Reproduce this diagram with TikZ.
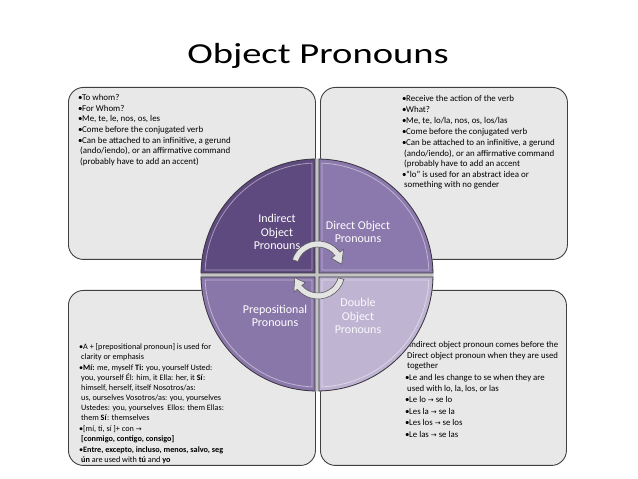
\documentclass[tikz,border=0pt]{standalone}
\usepackage{fontspec}
\setmainfont{Carlito}
\newfontfamily\djv{DejaVu Sans}
\definecolor{boxfill}{HTML}{E8E8E8}
\definecolor{boxline}{HTML}{404040}
\definecolor{qA}{HTML}{5E4A7F}
\definecolor{qB}{HTML}{8B78AC}
\definecolor{qC}{HTML}{8A77AA}
\definecolor{qD}{HTML}{BFB5D3}
\definecolor{qline}{HTML}{3A3340}
\definecolor{gapgray}{HTML}{C4C4C4}
\definecolor{arrfill}{HTML}{E4E4E4}
\definecolor{arrline}{HTML}{5A5A5A}
\newcommand{\bul}{\makebox[4pt][l]{•}}
\newcommand{\myind}{\hspace*{2pt}}
\newcommand{\myarr}{{\djv\fontsize{7}{7}\selectfont →}}
\tikzset{
  infobox/.style={draw=boxline, line width=0.9pt, fill=boxfill, rounded corners=15pt, inner sep=0pt, anchor=north west},
  bodytext/.style={anchor=north west, inner sep=0pt, align=left, text=black},
  qlabel/.style={align=center, text=white, font=\fontsize{12}{13.5}\selectfont, inner sep=0pt},
  quad/.style={draw=qline, line width=0.8pt},
  quadhi/.style={draw=white, draw opacity=0.45, line width=0.8pt},
  cyclearrow/.style={fill=arrfill, draw=arrline, line width=0.6pt}
}
\begin{document}
\begin{tikzpicture}[x=1pt,y=1pt]
\useasboundingbox (0,0) rectangle (638,479);
\fill[white] (0,0) rectangle (638,479);

% title
\node[inner sep=0pt, anchor=base, font=\fontsize{29}{29}\selectfont] (title) at (318,415) {\scalebox{1.33}[1]{Object Pronouns}};

% boxes
\node[infobox, minimum width=247pt, minimum height=172pt] (tlbox) at (68,392) {};
\node[infobox, minimum width=247pt, minimum height=172pt] (trbox) at (320,392) {};
\node[infobox, minimum width=247pt, minimum height=175pt] (llbox) at (68,189) {};
\node[infobox, minimum width=246pt, minimum height=175pt] (lrbox) at (320,189) {};

% body texts
\node[bodytext, font=\fontsize{8.9}{10.7}\selectfont] (tltext) at (78,385) {%
\bul To whom?\\
\bul For Whom?\\
\bul Me, te, le, nos, os, les\\
\bul Come before the conjugated verb\\
\bul Can be attached to an infinitive, a gerund\\
\myind(ando/iendo), or an affirmative command\\
\myind(probably have to add an accent)};

\node[bodytext, font=\fontsize{8.9}{10.3}\selectfont] (trtext) at (402,384) {%
\bul Receive the action of the verb\\[0.8pt]
\bul What?\\[0.8pt]
\bul Me, te, lo/la, nos, os, los/las\\[0.8pt]
\bul Come before the conjugated verb\\[0.8pt]
\bul Can be attached to an infinitive, a gerund\\
\myind(ando/iendo), or an affirmative command\\
\myind(probably have to add an accent\\[0.8pt]
\bul “lo” is used for an abstract idea or\\
\myind something with no gender};

\node[bodytext, font=\fontsize{8.2}{10}\selectfont] (lltext) at (79,136) {%
\bul A + [prepositional pronoun] is used for\\
\myind clarity or emphasis\\[1pt]
\bul\textbf{Mí:} me, myself \textbf{Ti:} you, yourself Usted:\\
\myind you, yourself Él: him, it Ella: her, it \textbf{Sí}:\\
\myind himself, herself, itself Nosotros/as:\\
\myind us, ourselves Vosotros/as: you, yourselves\\
\myind Ustedes: you, yourselves\ \ Ellos: them Ellas:\\
\myind them \textbf{Sí}: themselves\\[1pt]
\bul [mí, ti, sí ]+ con \myarr\\
\myind\textbf{[conmigo, contigo, consigo]}\\[1pt]
\bul\textbf{Entre, excepto, incluso, menos, salvo, seg}\\
\myind\textbf{ún} are used with \textbf{tú} and \textbf{yo}};

\node[bodytext, font=\fontsize{8.8}{10.3}\selectfont] (lrtext) at (405,137.5) {%
\bul Indirect object pronoun comes before the\\
\myind Direct object pronoun when they are used\\
\myind together\\[2pt]
\bul Le and les change to se when they are\\
\myind used with lo, la, los, or las\\[1.2pt]
\bul Le lo \myarr{} se lo\\[1.2pt]
\bul Les la \myarr{} se la\\[1.2pt]
\bul Les los \myarr{} se los\\[1.2pt]
\bul Le las \myarr{} se las};

% circle
\begin{scope}[shift={(317,204)}]
\fill[gapgray] (0,0) circle[radius=116.5];
\filldraw[quad, fill=qA] (-2,2) -- (179:116) arc[start angle=179, end angle=91, radius=116] -- cycle;
\filldraw[quad, fill=qB] (2,2) -- (89:116) arc[start angle=89, end angle=1, radius=116] -- cycle;
\filldraw[quad, fill=qD] (2,-2) -- (-1:116) arc[start angle=-1, end angle=-89, radius=116] -- cycle;
\filldraw[quad, fill=qC] (-2,-2) -- (-91:116) arc[start angle=-91, end angle=-179, radius=116] -- cycle;
\draw[quadhi] (-5,5) -- (177.4:112) arc[start angle=177.4, end angle=92.6, radius=112] -- cycle;
\draw[quadhi] (5,5) -- (87.4:112) arc[start angle=87.4, end angle=2.6, radius=112] -- cycle;
\draw[quadhi] (5,-5) -- (-2.6:112) arc[start angle=-2.6, end angle=-87.4, radius=112] -- cycle;
\draw[quadhi] (-5,-5) -- (-92.6:112) arc[start angle=-92.6, end angle=-177.4, radius=112] -- cycle;
\end{scope}

% quadrant labels
\node[qlabel] (qindirect) at (277,247) {Indirect\\Object\\Pronouns};
\node[qlabel] (qdirect) at (358,247) {Direct Object\\Pronouns};
\node[qlabel] (qprep) at (275,163) {Prepositional\\Pronouns};
\node[qlabel, text=white!92!qD] (qdouble) at (358,163) {Double\\Object\\Pronouns};

% cycle arrows
\filldraw[cyclearrow, shift={(318,211)}] (162:27) arc[start angle=162, end angle=36, radius=27] -- (36:31.5) -- (9:24) -- (36:16.5) -- (36:21) arc[start angle=36, end angle=162, radius=21] -- cycle;
\filldraw[cyclearrow, shift={(318,207)}] (-16:27) arc[start angle=-16, end angle=-140, radius=27] -- (-140:31.5) -- (-166:24) -- (-140:16.5) -- (-140:21) arc[start angle=-140, end angle=-16, radius=21] -- cycle;
\end{tikzpicture}
\end{document}
